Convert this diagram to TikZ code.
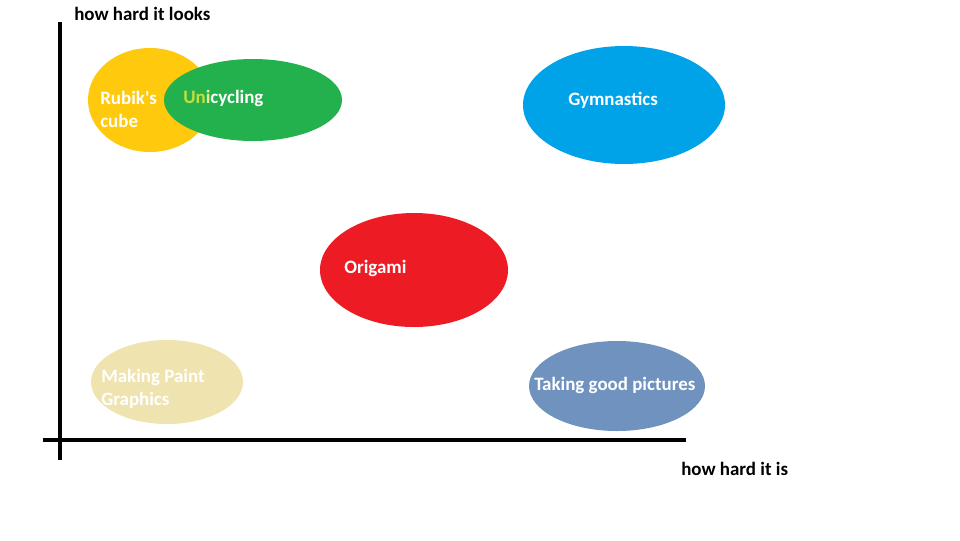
\documentclass[tikz,border=0pt]{standalone}
\usepackage{fontspec}
\newfontfamily\calfont{Carlito}
\usetikzlibrary{shapes.geometric}
\definecolor{pyellow}{HTML}{FFC90E}
\definecolor{pgreen}{HTML}{22B14C}
\definecolor{pblue}{HTML}{00A2E8}
\definecolor{pred}{HTML}{ED1C24}
\definecolor{pbeige}{HTML}{EFE4B0}
\definecolor{pslate}{HTML}{7092BE}
\definecolor{uniA}{HTML}{C8DC3C}
\definecolor{uniB}{HTML}{E4EE8C}
\tikzset{
  blob/.style={ellipse, inner sep=0pt, draw=none},
  lbl/.style={text=white, font=\calfont\bfseries\fontsize{14.2}{17.25}\selectfont, anchor=west, inner sep=0pt, align=left},
  axlbl/.style={text=black, font=\calfont\bfseries\fontsize{14.2}{17}\selectfont, anchor=west, inner sep=0pt},
  axis/.style={line width=3pt}
}
\begin{document}
\begin{tikzpicture}[x=0.75pt,y=-0.75pt]
\useasboundingbox[fill=white] (0,0) rectangle (960,540);
% ellipses
\node[blob, fill=pyellow, minimum width=124*0.75pt, minimum height=104*0.75pt] (rubik) at (150,100) {};
\node[blob, fill=pgreen, minimum width=178*0.75pt, minimum height=82*0.75pt] (uni) at (253,100) {};
\node[blob, fill=pblue, minimum width=202*0.75pt, minimum height=118*0.75pt] (gym) at (624,105) {};
\node[blob, fill=pred, minimum width=188*0.75pt, minimum height=114*0.75pt] (ori) at (414,270) {};
\node[blob, fill=pbeige, minimum width=152*0.75pt, minimum height=84*0.75pt] (paint) at (167,382) {};
\node[blob, fill=pslate, minimum width=176*0.75pt, minimum height=90*0.75pt] (pics) at (617,386) {};
% labels
\node[lbl] (rubikt) at (100,109.5) {Rubik's\\cube};
\node[lbl] (unit) at (183,98) {\textcolor{uniA}{U}\textcolor{uniA}{n}\textcolor{uniB}{i}cycling};
\node[lbl] (gymt) at (568,100) {Gymnastics};
\node[lbl] (orit) at (344,268) {Origami};
\node[lbl] (paintt) at (101,388.5) {Making Paint\\Graphics};
\node[lbl] (picst) at (534,385) {Taking good pictures};
% axes
\coordinate (ytop) at (60,22);
\coordinate (ybot) at (60,460);
\coordinate (xl) at (43,440);
\coordinate (xr) at (686,440);
\draw[axis] (ytop) -- (ybot);
\draw[axis] (xl) -- (xr);
\node[axlbl] (ylab) at (74,14) {how hard it looks};
\node[axlbl] (xlab) at (681,469) {how hard it is};
\end{tikzpicture}
\end{document}
